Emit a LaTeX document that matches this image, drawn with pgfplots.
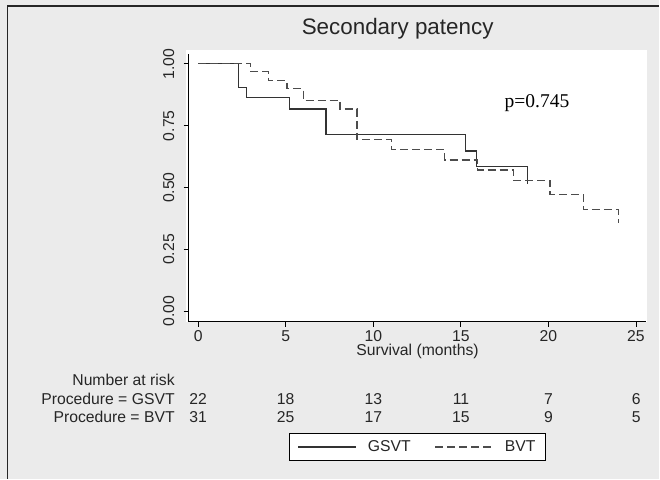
\documentclass[border=0pt]{standalone}
\usepackage{fontspec}
\setmainfont{Liberation Sans}
\newfontfamily\serifp{Liberation Serif}
\usepackage{pgfplots}
\usepackage{pgfplotstable}
\pgfplotsset{compat=1.18}

\newcommand\fs{\fontsize{15.8}{19}\selectfont}

% Kaplan-Meier steps
\pgfplotstableread{
t s
0 1
2.30 0.905
2.75 0.864
5.20 0.818
7.30 0.714
15.26 0.648
15.90 0.584
18.80 0.514
}\gsvt

\pgfplotstableread{
t s
0 1
3.00 0.968
4.00 0.932
5.07 0.899
6.00 0.853
8.10 0.817
9.07 0.695
11.05 0.654
14.07 0.611
15.96 0.571
18.00 0.530
20.10 0.472
22.00 0.411
24.00 0.357
}\bvt

\begin{document}
\begin{tikzpicture}
\fill[black!8] (0,0) rectangle (660bp,479bp);
\draw[black!85, line width=1.2bp] (7.5bp,0) -- (7.5bp,473bp) -- (660bp,473bp);
\fill[white] (186bp,157bp) rectangle (648bp,429bp);

\begin{axis}[
  at={(188.7bp,157bp)}, anchor=south west,
  scale only axis, width=458.3bp, height=268bp,
  xmin=-0.55, xmax=25.6, ymin=-0.042, ymax=1.04,
  axis x line*=bottom, axis y line*=left,
  axis line style={-, line width=1bp, black},
  tick align=outside, major tick length=5bp,
  tick style={black, line width=0.8bp},
  xtick={0,5,10,15,20,25},
  ytick={0,0.25,0.5,0.75,1},
  /pgf/number format/assume math mode=true,
  ticklabel style={font=\fs, text=black!85},
  yticklabel style={/pgf/number format/fixed, /pgf/number format/fixed zerofill,
    /pgf/number format/precision=2, rotate=90, anchor=south, inner sep=9bp},
  xlabel={Survival (months)},
  xlabel style={font=\fs, text=black!85, yshift=4bp},
  legend columns=2,
  legend style={at={(0.5,-0.468)}, anchor=center, draw=black, line width=0.8bp,
    fill=white, font=\fs, text=black!85, inner xsep=8bp, inner ysep=5bp,
    /tikz/every odd column/.append style={column sep=9bp},
    /tikz/every even column/.append style={column sep=22bp}},
  legend image code/.code={\draw[#1] (0bp,0bp) -- (58bp,0bp);},
]
\addplot[const plot, black!80, line width=1.3bp] table[x=t, y=s] {\gsvt};
\addlegendentry{GSVT}
\addplot[const plot, black!70, line width=1.3bp, dash pattern=on 8bp off 4bp] table[x=t, y=s] {\bvt};
\addlegendentry{BVT}
\end{axis}

\node[anchor=base, text=black!85] at (398bp,444bp) {\fontsize{22.5}{26}\selectfont Secondary patency};
\node[anchor=base, text=black] at (537.5bp,371bp) {\serifp\fontsize{19.6}{23}\selectfont p=0.745};

\begin{scope}[every node/.style={font=\fs, text=black!85, inner sep=0pt}]
\node[anchor=base east] at (175bp,93.3bp) {Number at risk};
\node[anchor=base east] at (175bp,74.3bp) {Procedure = GSVT};
\node[anchor=base east] at (175bp,56.6bp) {Procedure = BVT};
\node[anchor=base] at (198.3bp,74.3bp) {22};
\node[anchor=base] at (286.0bp,74.3bp) {18};
\node[anchor=base] at (373.7bp,74.3bp) {13};
\node[anchor=base] at (461.4bp,74.3bp) {11};
\node[anchor=base] at (549.1bp,74.3bp) {7};
\node[anchor=base] at (636.8bp,74.3bp) {6};
\node[anchor=base] at (198.3bp,56.6bp) {31};
\node[anchor=base] at (286.0bp,56.6bp) {25};
\node[anchor=base] at (373.7bp,56.6bp) {17};
\node[anchor=base] at (461.4bp,56.6bp) {15};
\node[anchor=base] at (549.1bp,56.6bp) {9};
\node[anchor=base] at (636.8bp,56.6bp) {5};
\end{scope}
\end{tikzpicture}
\end{document}
